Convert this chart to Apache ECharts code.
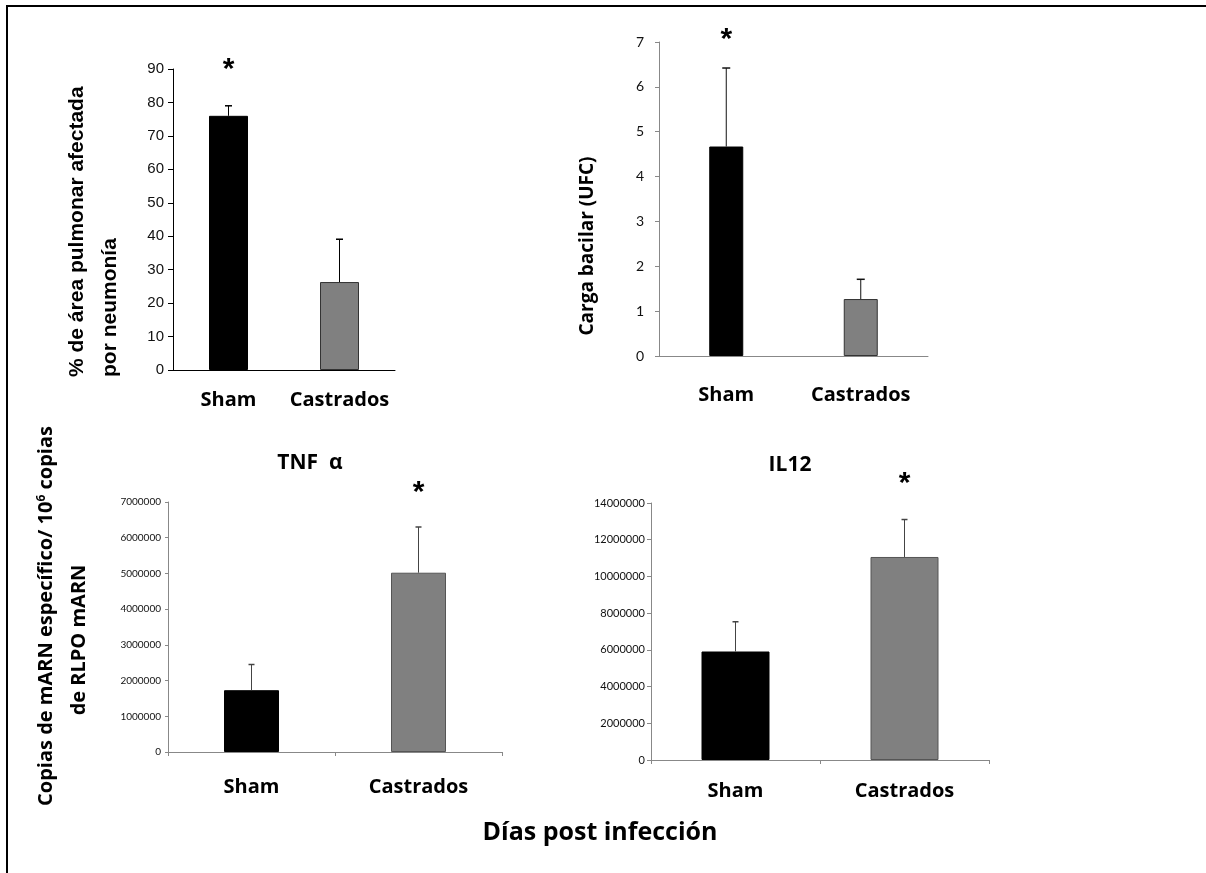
<!DOCTYPE html>
<html>
<head>
<meta charset="utf-8">
<script src="https://cdn.jsdelivr.net/npm/echarts@6/dist/echarts.min.js"></script>
<style>
html, body { margin: 0; padding: 0; background: #fff; }
#main { width: 1206px; height: 873px; }
</style>
</head>
<body>
<div id="main"></div>
<script>
// grupos
var categories = ['Sham', 'Castrados'];

// % area pulmonar afectada
var areaMean = [76, 26.3];
var areaErr = [3, 12.8];
var areaSig = [1, 0];

// carga bacilar (UFC)
var ufcMean = [4.67, 1.27];
var ufcErr = [1.75, 0.44];
var ufcSig = [1, 0];

// TNF alfa
var tnfMean = [1730000, 5020000];
var tnfErr = [720000, 1280000];
var tnfSig = [0, 1];

// IL12
var il12Mean = [5910000, 11060000];
var il12Err = [1620000, 2040000];
var il12Sig = [0, 1];

var chart = echarts.init(document.getElementById('main'));

var calibri = 'Lato, "Open Sans", sans-serif';
var heavy = '"Open Sans", Lato, sans-serif';
var arial = '"Liberation Sans", Arial, sans-serif';
var starFont = 'bold 30px ' + arial;

function errData(mean, err) {
    return mean.map(function (m, i) { return [i, m, err[i]]; });
}

// barras de error (solo hacia arriba) + asterisco
function errRender(sig, color, capW, starOff) {
    return function (params, api) {
        var i = api.value(0), m = api.value(1), e = api.value(2);
        var base = api.coord([i, m]);
        var top = api.coord([i, m + e]);
        var kids = [
            { type: 'line', shape: { x1: base[0], y1: base[1], x2: top[0], y2: top[1] },
              style: { stroke: color, lineWidth: 1 } },
            { type: 'line', shape: { x1: top[0] - capW / 2, y1: top[1], x2: top[0] + capW / 2, y2: top[1] },
              style: { stroke: color, lineWidth: 1.5 } }
        ];
        if (sig[params.dataIndex]) {
            kids.push({ type: 'text', x: top[0], y: top[1] - starOff,
                style: { text: '*', font: starFont, fill: '#000', align: 'center', verticalAlign: 'middle' } });
        }
        return { type: 'group', children: kids };
    };
}

var grids = [
    { left: 173, top: 69, width: 222, height: 301 },
    { left: 659, top: 42, width: 269, height: 314 },
    { left: 168, top: 502, width: 334, height: 250 },
    { left: 651, top: 503, width: 338, height: 257 }
];

function xAx(idx, lineColor, ticks, margin) {
    return {
        type: 'category', gridIndex: idx, data: categories,
        axisLine: { lineStyle: { color: lineColor, width: 1 } },
        axisTick: { show: ticks, length: 4, lineStyle: { color: lineColor } },
        axisLabel: { interval: 0, margin: margin, color: '#000', fontFamily: heavy, fontWeight: 'bold', fontSize: 20 }
    };
}

function yAx(idx, max, interval, lineColor, tickLen, labelMargin, font, size) {
    return {
        type: 'value', gridIndex: idx, min: 0, max: max, interval: interval,
        splitLine: { show: false },
        axisLine: { show: true, lineStyle: { color: lineColor, width: 1 } },
        axisTick: { show: true, length: tickLen, lineStyle: { color: lineColor } },
        axisLabel: { margin: labelMargin, color: '#111', fontFamily: font, fontSize: size,
                     formatter: function (v) { return String(v); } }
    };
}

function barSeries(idx, mean, colors, borders, width) {
    return {
        type: 'bar', xAxisIndex: idx, yAxisIndex: idx, barWidth: width,
        data: mean.map(function (v, i) {
            return { value: v, itemStyle: { color: colors[i], borderColor: borders[i], borderWidth: 1 } };
        })
    };
}

function errSeries(idx, mean, err, sig, color, capW, starOff) {
    return {
        type: 'custom', xAxisIndex: idx, yAxisIndex: idx, z: 5,
        encode: { x: 0, y: 1 },
        data: errData(mean, err),
        renderItem: errRender(sig, color, capW, starOff)
    };
}

var option = {
    animation: false,
    backgroundColor: '#fff',
    grid: grids,
    xAxis: [
        xAx(0, '#000', false, 20),
        xAx(1, '#888', false, 29),
        xAx(2, '#888', true, 25),
        xAx(3, '#888', true, 21)
    ],
    yAxis: [
        yAx(0, 90, 10, '#000', 5, 9, arial, 15),
        yAx(1, 7, 1, '#888', 4, 15, calibri, 14),
        yAx(2, 7000000, 1000000, '#888', 3, 7, calibri, 10),
        yAx(3, 14000000, 2000000, '#888', 4, 6, calibri, 11)
    ],
    series: [
        barSeries(0, areaMean, ['#000', '#808080'], ['#000', '#333'], 39),
        errSeries(0, areaMean, areaErr, areaSig, '#000', 7, 36),
        barSeries(1, ufcMean, ['#000', '#808080'], ['#000', '#333'], 34),
        errSeries(1, ufcMean, ufcErr, ufcSig, '#111', 8, 28),
        barSeries(2, tnfMean, ['#000', '#808080'], ['#000', '#555'], 55),
        errSeries(2, tnfMean, tnfErr, tnfSig, '#444', 6, 34),
        barSeries(3, il12Mean, ['#000', '#808080'], ['#000', '#555'], 68),
        errSeries(3, il12Mean, il12Err, il12Sig, '#444', 6, 36)
    ],
    graphic: [
        // marco
        { type: 'line', shape: { x1: 6, y1: 6, x2: 1206, y2: 6 }, style: { stroke: '#000', lineWidth: 2 } },
        { type: 'line', shape: { x1: 7, y1: 5, x2: 7, y2: 873 }, style: { stroke: '#000', lineWidth: 2 } },
        // titulos de eje superiores
        { type: 'text', x: 77, y: 377, rotation: Math.PI / 2,
          style: { text: '% de área pulmonar afectada', font: 'bold 21px ' + arial, fill: '#000',
                   align: 'left', verticalAlign: 'middle' } },
        { type: 'text', x: 110, y: 377, rotation: Math.PI / 2,
          style: { text: 'por neumonía', font: 'bold 21px ' + arial, fill: '#000',
                   align: 'left', verticalAlign: 'middle' } },
        { type: 'text', x: 588, y: 246, rotation: Math.PI / 2,
          style: { text: 'Carga bacilar (UFC)', font: 'bold 19px ' + heavy, fill: '#000',
                   align: 'center', verticalAlign: 'middle' } },
        // titulos inferiores
        { type: 'text', x: 310, y: 463,
          style: { text: 'TNF  α', font: 'bold 21px ' + heavy, fill: '#000', align: 'center', verticalAlign: 'middle' } },
        { type: 'text', x: 790, y: 465,
          style: { text: 'IL12', font: 'bold 21px ' + heavy, fill: '#000', align: 'center', verticalAlign: 'middle' } },
        // eje compartido
        { type: 'text', x: 46, y: 616, rotation: Math.PI / 2,
          style: { text: 'Copias de mARN específico/ 10{sup|6} copias', font: 'bold 20px ' + heavy, fill: '#000',
                   align: 'center', verticalAlign: 'middle',
                   rich: { sup: { fontSize: 12, fontWeight: 'bold', fontFamily: heavy, verticalAlign: 'top', padding: [0, 0, 8, 0] } } } },
        { type: 'text', x: 79, y: 640, rotation: Math.PI / 2,
          style: { text: 'de RLPO mARN', font: 'bold 20px ' + heavy, fill: '#000',
                   align: 'center', verticalAlign: 'middle' } },
        { type: 'text', x: 600, y: 833,
          style: { text: 'Días post infección', font: 'bold 25px ' + heavy, fill: '#000',
                   align: 'center', verticalAlign: 'middle' } }
    ]
};

chart.setOption(option);
</script>
</body>
</html>
